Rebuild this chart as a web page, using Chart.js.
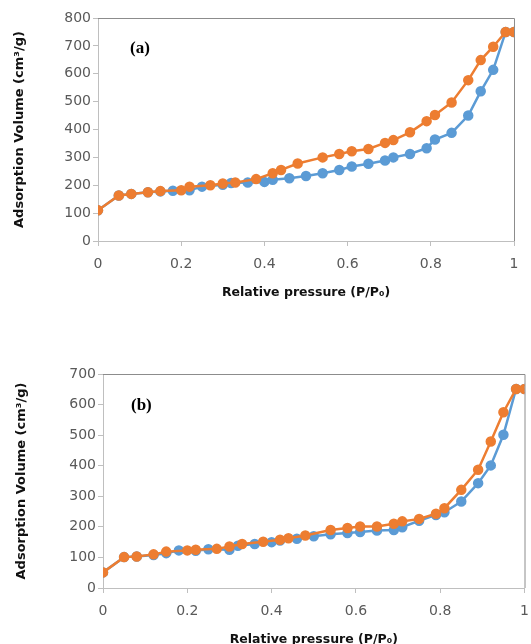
<!DOCTYPE html>
<html>
<head>
<meta charset="utf-8">
<script src="https://cdn.jsdelivr.net/npm/chart.js@4"></script>
<style>
  body { margin: 0; background: #fff; }
  .box { position: absolute; left: 0; width: 531px; }
  #boxA { top: 0; height: 310px; }
  #boxB { top: 340px; height: 304px; }
  .tag { position: absolute; font: bold 17px "Liberation Serif", serif; color: #000; }
</style>
</head>
<body>
<div class="box" id="boxA"><canvas id="chartA"></canvas></div>
<div class="box" id="boxB"><canvas id="chartB"></canvas></div>
<div class="tag" style="left:130px; top:38px;">(a)</div>
<div class="tag" style="left:131px; top:395px;">(b)</div>
<script>
// relative pressure values (x)
const pressureDes = [0, 0.05, 0.08, 0.12, 0.15, 0.2, 0.22, 0.27, 0.3, 0.33, 0.38, 0.42, 0.44, 0.48, 0.54, 0.58, 0.61, 0.65, 0.69, 0.71, 0.75, 0.79, 0.81, 0.85, 0.89, 0.92, 0.95, 0.98, 1];
const pressureAds = [0, 0.05, 0.08, 0.12, 0.15, 0.18, 0.22, 0.25, 0.3, 0.32, 0.36, 0.4, 0.42, 0.46, 0.5, 0.54, 0.58, 0.61, 0.65, 0.69, 0.71, 0.75, 0.79, 0.81, 0.85, 0.89, 0.92, 0.95, 0.98, 1];

// (a)
const volumeDesA = [110, 163, 169, 175, 179, 182, 195, 200, 206, 210, 222, 243, 255, 278, 300, 312, 322, 330, 352, 362, 390, 430, 452, 497, 577, 649, 697, 750, 750];
const volumeAdsA = [110, 163, 169, 175, 178, 180, 182, 195, 202, 208, 210, 212, 220, 225, 233, 243, 255, 267, 277, 289, 300, 312, 333, 364, 388, 450, 537, 614, 750, 750];

// (b)
const volumeDesB = [51, 101, 103, 110, 119, 123, 125, 128, 136, 144, 151, 158, 163, 172, 190, 196, 201, 201, 210, 218, 226, 243, 261, 321, 387, 479, 575, 651, 651];
const volumeAdsB = [51, 101, 103, 108, 114, 123, 122, 127, 125, 138, 144, 150, 155, 161, 169, 176, 180, 183, 188, 190, 199, 220, 239, 248, 283, 343, 401, 501, 651, 651];

const xTicks = [0, 0.2, 0.4, 0.6, 0.8, 1];
const yTicksA = [0, 100, 200, 300, 400, 500, 600, 700, 800];
const yTicksB = [0, 100, 200, 300, 400, 500, 600, 700];

const orange = '#ED7D31';
const blue = '#5B9BD5';

function toPoints(xs, ys) {
  return xs.map((x, i) => ({ x, y: ys[i] }));
}

// top and right edges of the plot frame
const frame = {
  id: 'frame',
  beforeDatasetsDraw(chart) {
    const { ctx, chartArea: a } = chart;
    ctx.save();
    ctx.strokeStyle = '#8c8c8c';
    ctx.lineWidth = 1;
    ctx.beginPath();
    ctx.moveTo(a.left, a.top + 0.5);
    ctx.lineTo(a.right + 0.5, a.top + 0.5);
    ctx.lineTo(a.right + 0.5, a.bottom);
    ctx.stroke();
    ctx.restore();
  }
};

function makeChart(el, opts) {
  const ds = (label, data, color) => ({
    label,
    data,
    showLine: true,
    borderColor: color,
    backgroundColor: color,
    borderWidth: 2.5,
    pointRadius: 4,
    pointHoverRadius: 4,
    tension: 0
  });
  return new Chart(el, {
    type: 'scatter',
    data: {
      datasets: [
        ds('Desorption', opts.des, orange),
        ds('Adsorption', opts.ads, blue)
      ]
    },
    plugins: [frame],
    options: {
      responsive: true,
      maintainAspectRatio: false,
      animation: false,
      layout: { padding: opts.padding },
      plugins: {
        legend: { display: false },
        tooltip: { enabled: false }
      },
      scales: {
        x: {
          type: 'linear',
          min: 0,
          max: 1,
          afterBuildTicks: (s) => { s.ticks = xTicks.map(v => ({ value: v })); },
          afterFit: (s) => {
            s.height = opts.xHeight;
            s.paddingLeft = 0;
            s.paddingRight = 0;
          },
          grid: { drawOnChartArea: false, color: '#bfbfbf', tickLength: 5 },
          border: { color: '#bfbfbf' },
          ticks: {
            padding: 10,
            color: '#595959',
            font: { family: 'DejaVu Sans', size: 14 },
            callback: (v) => String(v)
          },
          title: {
            display: true,
            text: 'Relative pressure (P/P\u2080)',
            color: '#111',
            font: { family: 'DejaVu Sans', size: 12.5, weight: 'bold' },
            padding: { top: 0, bottom: opts.xTitlePad }
          }
        },
        y: {
          min: 0,
          max: opts.yMax,
          afterBuildTicks: (s) => { s.ticks = opts.yTicks.map(v => ({ value: v })); },
          afterFit: (s) => {
            s.width = opts.yWidth;
            s.paddingTop = 0;
            s.paddingBottom = 0;
          },
          grid: { drawOnChartArea: false, color: '#bfbfbf', tickLength: 5 },
          border: { color: '#bfbfbf' },
          ticks: {
            padding: 2,
            color: '#595959',
            font: { family: 'DejaVu Sans', size: 14 }
          },
          title: {
            display: true,
            text: 'Adsorption Volume (cm\u00b3/g)',
            color: '#111',
            font: { family: 'DejaVu Sans', size: 13, weight: 'bold' },
            padding: { top: opts.yTitlePad, bottom: 0 }
          }
        }
      }
    }
  });
}

makeChart(document.getElementById('chartA'), {
  des: toPoints(pressureDes, volumeDesA),
  ads: toPoints(pressureAds, volumeAdsA),
  yMax: 800,
  yTicks: yTicksA,
  padding: { top: 18, right: 17, left: 0, bottom: 0 },
  xHeight: 69,
  yWidth: 98,
  xTitlePad: 10,
  yTitlePad: 12
});

makeChart(document.getElementById('chartB'), {
  des: toPoints(pressureDes, volumeDesB),
  ads: toPoints(pressureAds, volumeAdsB),
  yMax: 700,
  yTicks: yTicksB,
  padding: { top: 34, right: 5, left: 0, bottom: 0 },
  xHeight: 56,
  yWidth: 103,
  xTitlePad: -3,
  yTitlePad: 14
});
</script>
</body>
</html>
